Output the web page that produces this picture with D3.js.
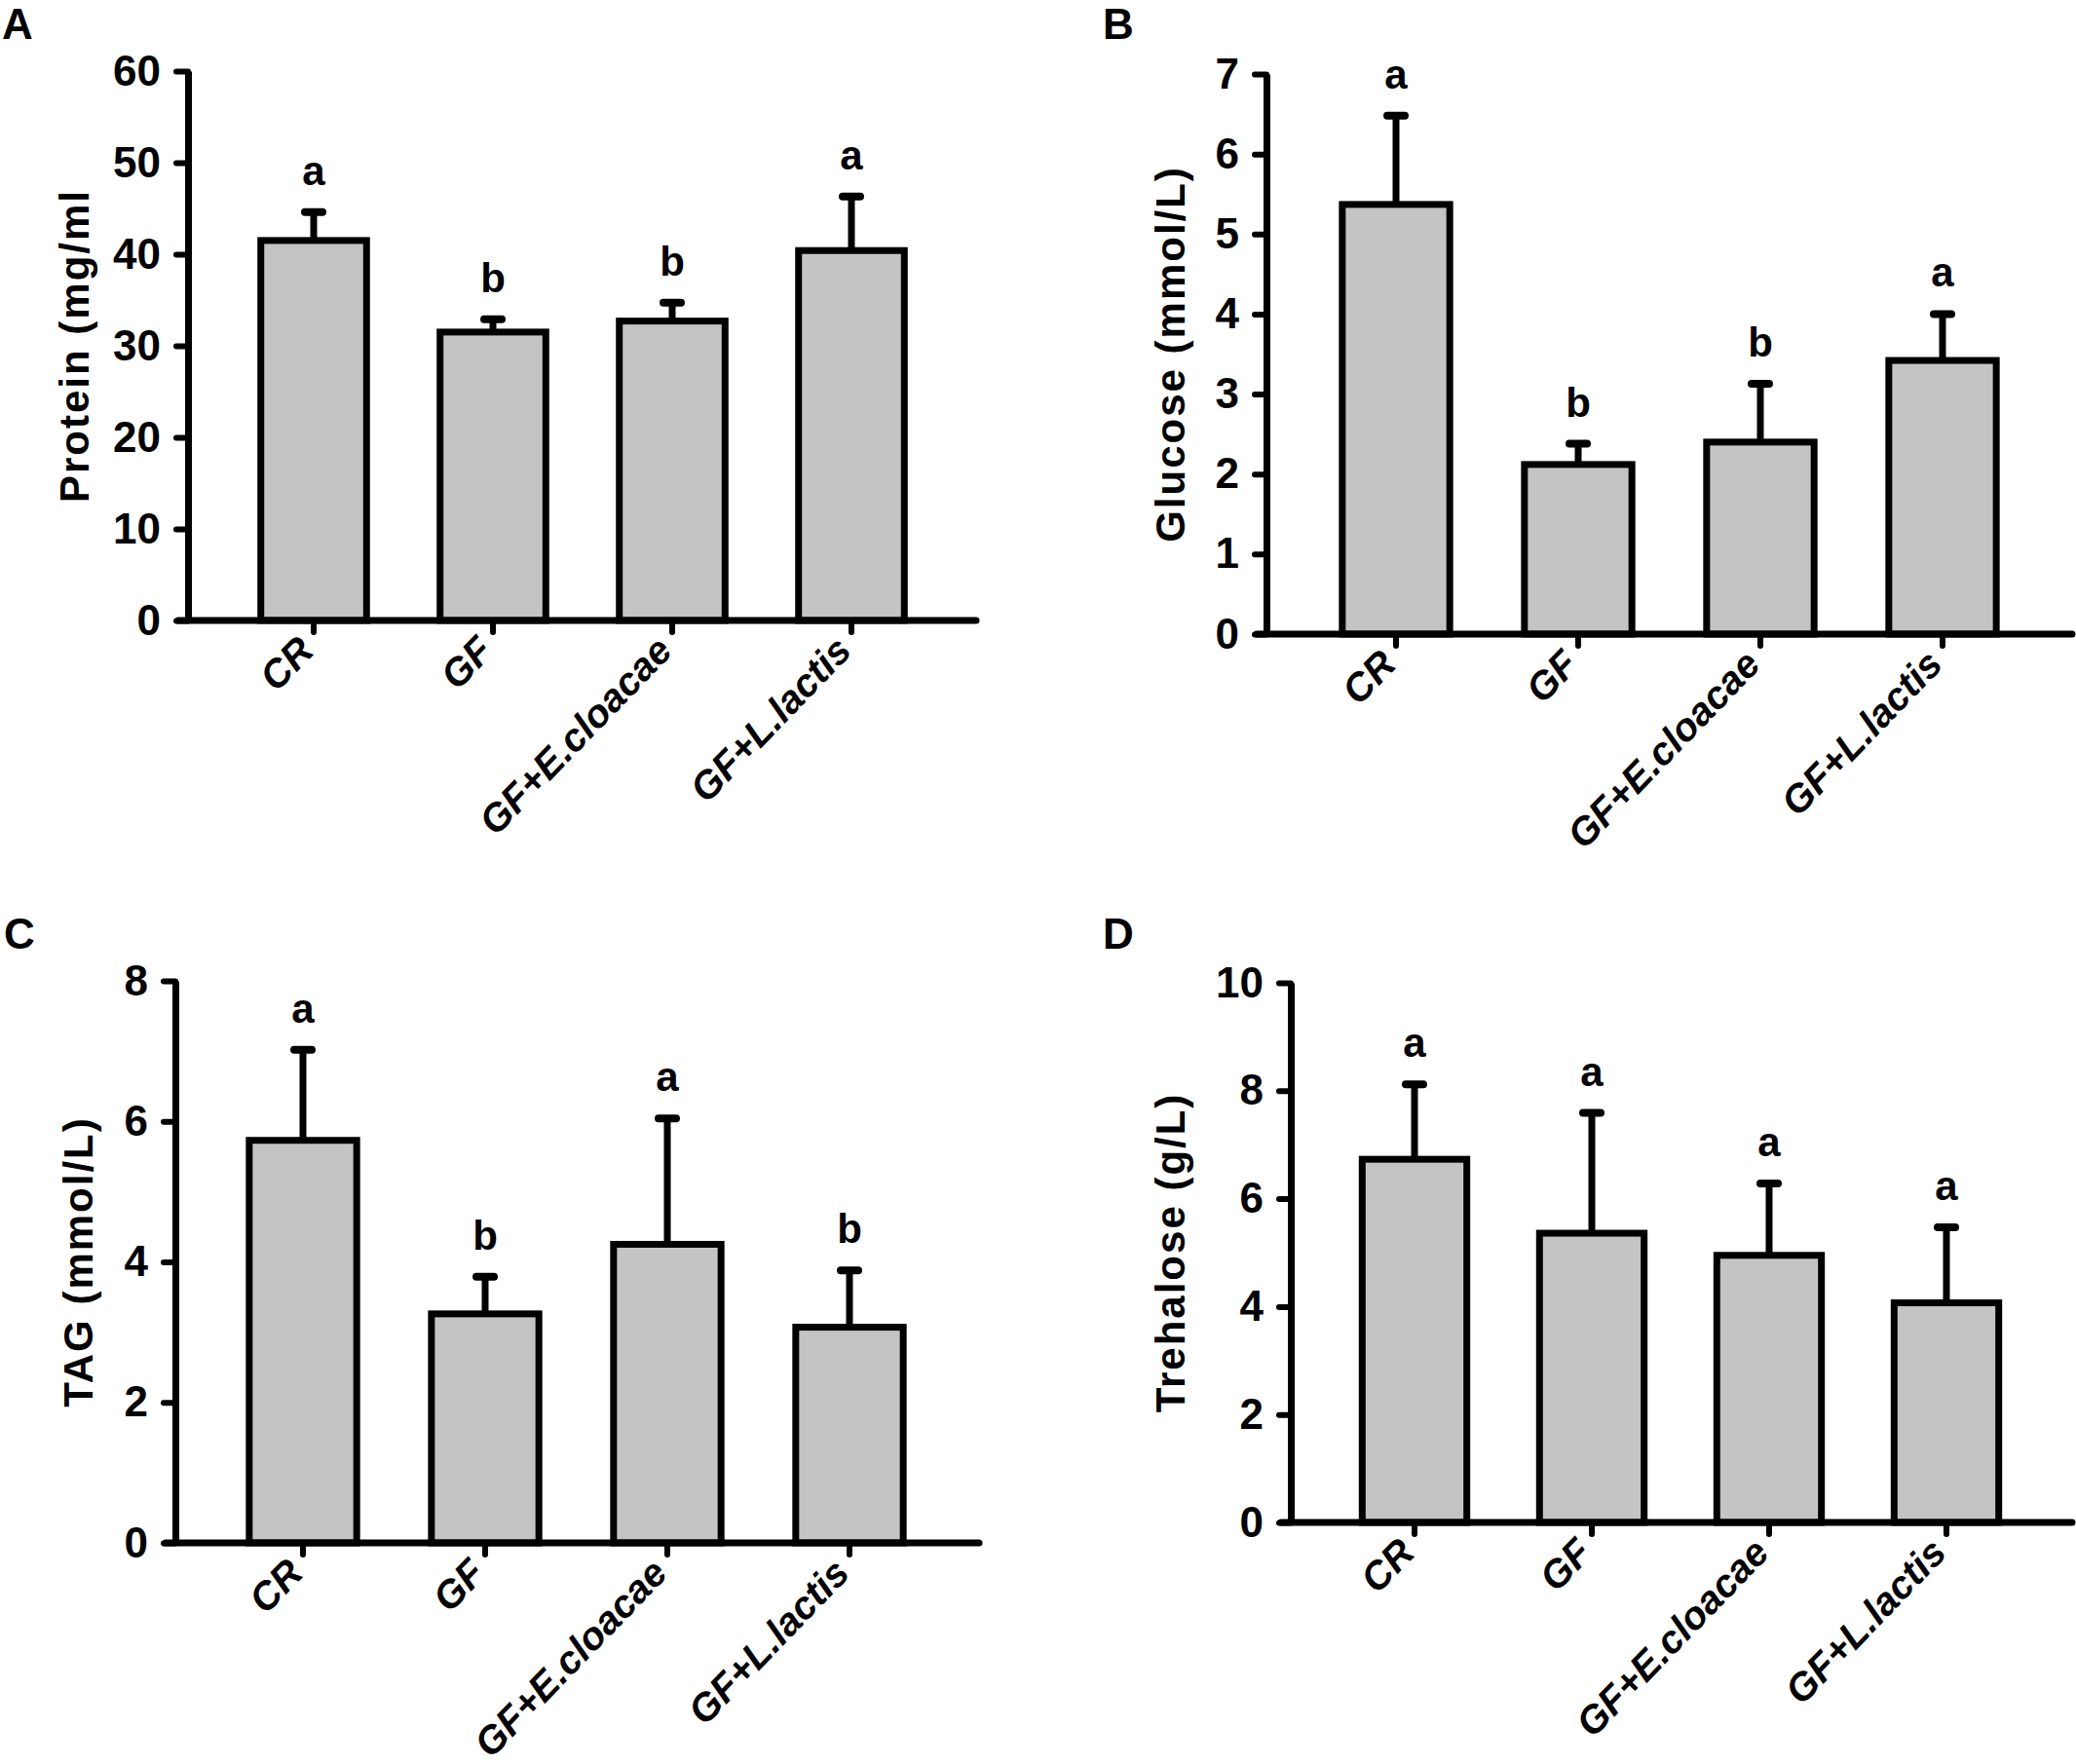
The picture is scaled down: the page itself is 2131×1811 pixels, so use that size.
<!DOCTYPE html>
<html>
<head>
<meta charset="utf-8">
<script src="https://cdn.jsdelivr.net/npm/d3@7"></script>
<style>
    body { margin: 0; background: #ffffff; }
    svg { display: block; }
    text { font-family: 'Liberation Sans', Arial, sans-serif; font-weight: bold; fill: #000; }
    .tick-label { font-family: 'Liberation Sans Narrow', 'Liberation Sans', Arial, sans-serif; }
</style>
</head>
<body>
<div id="chart"></div>
<script>
// groups on the x axis (same for all four panels)
const groups = ['CR', 'GF', 'GF+E.cloacae', 'GF+L.lactis'];

// A - protein
const proteinMean = [41.5, 31.5, 32.7, 40.4];
const proteinSD = [3.1, 1.4, 2.0, 5.9];
const proteinLetters = ['a', 'b', 'b', 'a'];
const proteinTicks = [0, 10, 20, 30, 40, 50, 60];

// B - glucose
const glucoseMean = [5.37, 2.12, 2.40, 3.42];
const glucoseSD = [1.11, 0.26, 0.73, 0.58];
const glucoseLetters = ['a', 'b', 'b', 'a'];
const glucoseTicks = [0, 1, 2, 3, 4, 5, 6, 7];

// C - TAG
const tagMean = [5.73, 3.26, 4.25, 3.07];
const tagSD = [1.29, 0.53, 1.79, 0.81];
const tagLetters = ['a', 'b', 'a', 'b'];
const tagTicks = [0, 2, 4, 6, 8];

// D - trehalose
const trehaloseMean = [6.73, 5.36, 4.95, 4.07];
const trehaloseSD = [1.39, 2.23, 1.33, 1.40];
const trehaloseLetters = ['a', 'a', 'a', 'a'];
const trehaloseTicks = [0, 2, 4, 6, 8, 10];

const width = 2131, height = 1811;
const barFill = '#c4c4c4';

let svg = d3.select('#chart').append('svg')
    .attr('width', width)
    .attr('height', height);

svg.append('rect')
    .attr('width', width)
    .attr('height', height)
    .attr('fill', '#ffffff');

function drawPanel(layout, title, means, sds, letters, ticks) {
    let g = svg.append('g');

    let x = d3.scaleBand()
        .domain(groups)
        .range([layout.c0 - layout.step / 2, layout.c0 + (groups.length - 0.5) * layout.step])
        .paddingInner(0.41)
        .paddingOuter(0.205);
    let y = d3.scaleLinear()
        .domain([0, d3.max(ticks)])
        .range([layout.bottom, layout.top]);

    let rows = groups.map((name, i) => ({name: name, mean: means[i], sd: sds[i], letter: letters[i]}));

    // bars
    g.selectAll('.bar')
        .data(rows)
        .enter().append('rect')
        .attr('class', 'bar')
        .attr('x', d => x(d.name))
        .attr('y', d => y(d.mean))
        .attr('width', x.bandwidth())
        .attr('height', d => y(0) - y(d.mean))
        .attr('fill', barFill)
        .attr('stroke', '#000')
        .attr('stroke-width', 7);

    // error bars (upper only)
    let cx = d => x(d.name) + x.bandwidth() / 2;
    g.selectAll('.err')
        .data(rows)
        .enter().append('line')
        .attr('x1', cx)
        .attr('x2', cx)
        .attr('y1', d => y(d.mean))
        .attr('y2', d => y(d.mean + d.sd))
        .attr('stroke', '#000')
        .attr('stroke-width', 7);
    g.selectAll('.cap')
        .data(rows)
        .enter().append('line')
        .attr('x1', d => cx(d) - 9)
        .attr('x2', d => cx(d) + 9)
        .attr('y1', d => y(d.mean + d.sd))
        .attr('y2', d => y(d.mean + d.sd))
        .attr('stroke', '#000')
        .attr('stroke-width', 8)
        .attr('stroke-linecap', 'round');

    // significance letters
    g.selectAll('.letter')
        .data(rows)
        .enter().append('text')
        .attr('x', cx)
        .attr('y', d => y(d.mean + d.sd) - 28)
        .attr('text-anchor', 'middle')
        .attr('font-size', 42)
        .text(d => d.letter);

    // y axis
    let yAxisGroup = g.append('g')
        .attr('transform', 'translate(' + layout.left + ',0)')
        .call(d3.axisLeft(y).tickValues(ticks).tickFormat(d3.format('d'))
            .tickSize(12).tickSizeOuter(0).tickPadding(16));
    yAxisGroup.select('.domain')
        .attr('stroke', '#000')
        .attr('stroke-width', 7);
    yAxisGroup.selectAll('.tick line')
        .attr('stroke', '#000')
        .attr('stroke-width', 6)
        .attr('stroke-linecap', 'round');
    yAxisGroup.selectAll('.tick text')
        .attr('class', 'tick-label')
        .attr('font-size', 44)
        .attr('font-family', null)
        .attr('fill', '#000');

    // x axis line runs a bit past both ends
    g.append('line')
        .attr('x1', layout.left - 10)
        .attr('x2', layout.right)
        .attr('y1', y(0))
        .attr('y2', y(0))
        .attr('stroke', '#000')
        .attr('stroke-width', 7)
        .attr('stroke-linecap', 'round');

    let xAxisGroup = g.append('g')
        .attr('transform', 'translate(0,' + y(0) + ')')
        .call(d3.axisBottom(x).tickSize(12).tickSizeOuter(0));
    xAxisGroup.select('.domain').remove();
    xAxisGroup.selectAll('.tick line')
        .attr('stroke', '#000')
        .attr('stroke-width', 6)
        .attr('stroke-linecap', 'round');
    xAxisGroup.selectAll('.tick text')
        .attr('font-size', 40)
        .attr('font-style', 'italic')
        .attr('font-family', null)
        .attr('fill', '#000')
        .attr('text-anchor', 'end')
        .attr('dy', null)
        .attr('y', 0)
        .attr('x', 0)
        .attr('transform', 'translate(2,33) rotate(-46)');

    // y axis title
    g.append('text')
        .attr('transform', 'translate(' + layout.labelX + ',' + ((layout.top + layout.bottom) / 2) + ') rotate(-90)')
        .attr('text-anchor', 'middle')
        .attr('dominant-baseline', 'central')
        .attr('font-size', 42)
        .attr('letter-spacing', 2)
        .text(title);

    // panel tag
    g.append('text')
        .attr('x', layout.tagX)
        .attr('y', layout.tagY)
        .attr('font-size', 44)
        .text(layout.tag);
}

drawPanel({tag: 'A', tagX: 2, tagY: 40, left: 193, right: 1002, top: 73, bottom: 637, c0: 322, step: 184, labelX: 76},
    'Protein (mg/ml', proteinMean, proteinSD, proteinLetters, proteinTicks);
drawPanel({tag: 'B', tagX: 1132, tagY: 40, left: 1300, right: 2127, top: 76, bottom: 651, c0: 1433, step: 187, labelX: 1201},
    'Glucose (mmol/L)', glucoseMean, glucoseSD, glucoseLetters, glucoseTicks);
drawPanel({tag: 'C', tagX: 4, tagY: 974, left: 180, right: 1005, top: 1007, bottom: 1584, c0: 311, step: 187, labelX: 80},
    'TAG (mmol/L)', tagMean, tagSD, tagLetters, tagTicks);
drawPanel({tag: 'D', tagX: 1132, tagY: 974, left: 1325, right: 2127, top: 1009, bottom: 1563, c0: 1452, step: 182, labelX: 1201},
    'Trehalose (g/L)', trehaloseMean, trehaloseSD, trehaloseLetters, trehaloseTicks);
</script>
</body>
</html>
